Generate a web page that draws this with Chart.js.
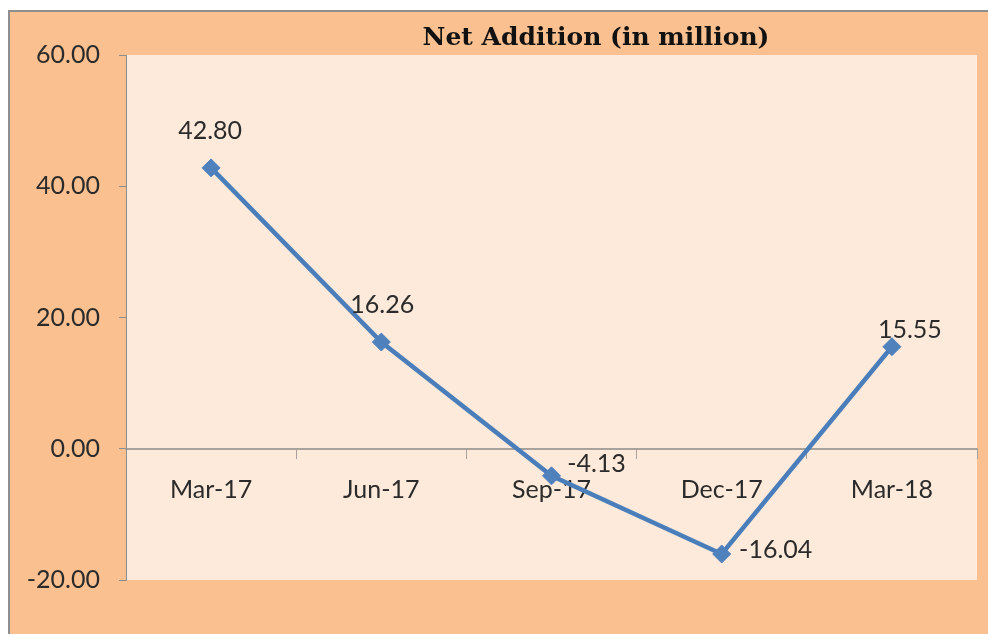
<!DOCTYPE html>
<html>
<head>
<meta charset="utf-8">
<script src="https://cdn.jsdelivr.net/npm/chart.js@4/dist/chart.umd.min.js"></script>
<style>
  html, body { margin: 0; padding: 0; background: #ffffff; }
  #wrap { width: 988px; height: 634px; position: relative; }
</style>
</head>
<body>
<div id="wrap"><canvas id="c" width="988" height="634"></canvas></div>
<script>
// ---- data ----
const categories = ['Mar-17', 'Jun-17', 'Sep-17', 'Dec-17', 'Mar-18'];
const netAddition = [42.80, 16.26, -4.13, -16.04, 15.55];
const yTicks = { min: -20, max: 60, step: 20 };
const titleText = 'Net Addition (in million)';

// ---- style ----
const COLORS = {
  outer: '#FAC090',
  inner: '#FDEADA',
  frame: '#8E8E8E',
  axis: '#A8A29C',
  line: '#4A7EBB',
  marker: '#4F81BD',
  text: '#2B2B2B'
};
const FONT = 'Lato, "Open Sans", sans-serif';
// label offsets (dx, dy) of data label centres from their points, in px
const labelOffsets = [[-1, -37], [1, -37], [45, -12], [54, -4], [18, -17]];

const bgPlugin = {
  id: 'bg',
  beforeDraw(chart) {
    const { ctx, width, height, chartArea: a } = chart;
    ctx.save();
    ctx.fillStyle = '#ffffff';
    ctx.fillRect(0, 0, width, height);
    ctx.fillStyle = COLORS.outer;
    ctx.fillRect(9, 11, width - 9, height - 11);
    ctx.strokeStyle = COLORS.frame;
    ctx.lineWidth = 2;
    ctx.beginPath();
    ctx.moveTo(9, height);
    ctx.lineTo(9, 11);
    ctx.lineTo(width, 11);
    ctx.stroke();
    ctx.fillStyle = COLORS.inner;
    ctx.fillRect(a.left, a.top, a.right - a.left, a.bottom - a.top);
    ctx.restore();
  }
};

const titlePlugin = {
  id: 'ttl',
  afterDraw(chart) {
    const { ctx } = chart;
    ctx.save();
    ctx.font = 'bold 25px "DejaVu Serif", serif';
    ctx.fillStyle = '#111111';
    ctx.textAlign = 'center';
    ctx.textBaseline = 'middle';
    ctx.fillText(titleText, 596, 38);
    ctx.restore();
  }
};

const labelPlugin = {
  id: 'dlabels',
  afterDatasetsDraw(chart) {
    const { ctx } = chart;
    const meta = chart.getDatasetMeta(0);
    ctx.save();
    ctx.font = '25px ' + FONT;
    ctx.fillStyle = COLORS.text;
    ctx.textAlign = 'center';
    ctx.textBaseline = 'middle';
    meta.data.forEach((pt, i) => {
      const off = labelOffsets[i];
      ctx.fillText(netAddition[i].toFixed(2), pt.x + off[0], pt.y + off[1]);
    });
    ctx.restore();
  }
};

new Chart(document.getElementById('c'), {
  type: 'line',
  data: {
    labels: categories,
    datasets: [{
      data: netAddition,
      borderColor: COLORS.line,
      borderWidth: 4.5,
      pointStyle: 'rectRot',
      pointRadius: 9,
      pointBackgroundColor: COLORS.marker,
      pointBorderColor: COLORS.marker,
      pointBorderWidth: 1,
      tension: 0
    }]
  },
  options: {
    responsive: false,
    animation: false,
    layout: { padding: { left: 0, top: 55, right: 11, bottom: 54 } },
    plugins: {
      legend: { display: false },
      title: { display: false },
      tooltip: { enabled: false }
    },
    scales: {
      x: {
        type: 'category',
        position: { y: 0 },
        offset: true,
        grid: {
          offset: true,
          drawOnChartArea: false,
          drawTicks: true,
          tickLength: 9,
          color: COLORS.axis,
          lineWidth: 1
        },
        border: { display: true, color: COLORS.axis, width: 2 },
        ticks: {
          font: { family: FONT, size: 25 },
          color: COLORS.text,
          padding: 17,
          maxRotation: 0,
          autoSkip: false
        }
      },
      y: {
        min: yTicks.min,
        max: yTicks.max,
        afterFit(scale) { scale.width = 126; },
        grid: {
          drawOnChartArea: false,
          drawTicks: true,
          tickLength: 7,
          color: COLORS.frame
        },
        border: { display: true, color: COLORS.frame, width: 1 },
        ticks: {
          stepSize: yTicks.step,
          font: { family: FONT, size: 25 },
          color: COLORS.text,
          padding: 19,
          callback: v => Number(v).toFixed(2)
        }
      }
    }
  },
  plugins: [bgPlugin, titlePlugin, labelPlugin]
});
</script>
</body>
</html>
